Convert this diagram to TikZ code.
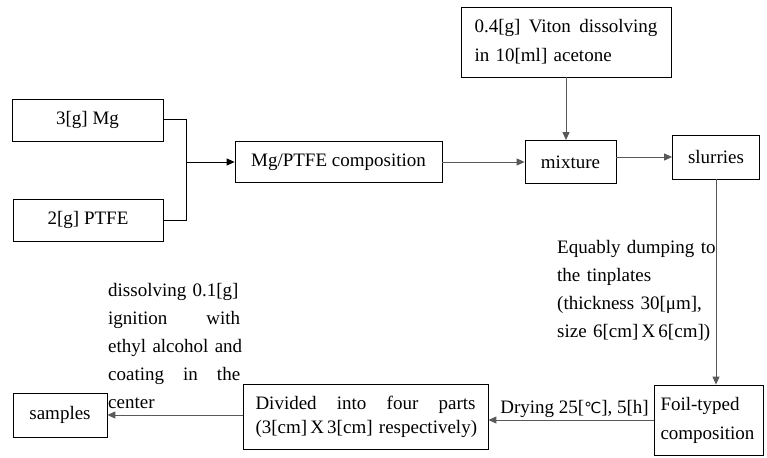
\documentclass[tikz,border=0pt]{standalone}
\usepackage{fontspec}
\setmainfont{Liberation Serif}
\newfontfamily\degfont[Scale=0.8]{DejaVu Sans}
\usetikzlibrary{arrows.meta}

\tikzset{
	box/.style={draw, line width=0.8pt, inner sep=0pt, align=center, font=\fontsize{19}{28}\selectfont},
	note/.style={inner sep=0pt, align=left, font=\fontsize{19}{28}\selectfont},
	link/.style={->, draw=gray!70!black, line width=0.9pt},
}

\begin{document}
\begin{tikzpicture}[x=1pt, y=-1pt, >={Triangle[length=8pt,width=7pt]}]
		\useasboundingbox (0,0) rectangle (767,457);

		\node[box, minimum width=151pt, minimum height=42pt] (mg) at (87.5,120) {3[g] Mg};
		\node[box, minimum width=150pt, minimum height=42pt] (ptfe) at (88,220) {2[g] PTFE};
		\node[box, minimum width=207pt, minimum height=41pt] (comp) at (338.5,162) {Mg/PTFE composition};
		\node[box, minimum width=210pt, minimum height=70pt, text width=183pt, align=left,
			font=\fontsize{19}{29}\selectfont] (viton) at (566,42)
			{0.4[g]\hfill Viton\hfill dissolving\\in 10[ml] acetone};
		\node[box, minimum width=91pt, minimum height=43pt] (mix) at (570.5,162) {mixture};
		\node[box, minimum width=87pt, minimum height=44pt] (slur) at (716,157) {slurries};
		\node[box, minimum width=109pt, minimum height=70pt, text width=96pt, align=left,
			font=\fontsize{19}{29}\selectfont] (foil) at (708.5,420) {Foil-typed\\composition};
		\node[box, minimum width=245pt, minimum height=65pt, text width=220pt, align=left,
			font=\fontsize{19}{24}\selectfont] (div) at (365.5,416.5)
			{Divided\hfill into\hfill four\hfill parts\\\mbox{(3[cm]\,X\,3[cm] respectively)}};
		\node[box, minimum width=94pt, minimum height=44pt] (samp) at (60,415) {samples};

		% notes beside the arrows
		\node[note, anchor=north west, text width=160pt] (dump) at (557,240)
			{Equably dumping to\\the tinplates\\(thickness 30[μm],\\size 6[cm]\,X\,6[cm])};
		\node[note, anchor=north west, text width=132pt] (coat) at (108,283)
			{dissolving 0.1[g]\\ignition\hfill with\\\mbox{ethyl alcohol and}\\coating\hfill in\hfill the\\center};
		\node[note, anchor=base east] (dry) at (649,413) {Drying 25[{\degfont ℃}], 5[h]};

		\coordinate (jn) at (186,162);
		\draw[line width=1pt] (mg.east) -| (jn);
		\draw[line width=1pt] (ptfe.east) -| (jn);
		\draw[->, line width=1pt] (jn) -- (comp.west);

		\draw[link] (comp) -- (mix);
		\draw[link] (viton.south) -- (viton.south |- mix.north);
		\draw[link] (mix.east |- slur.west) -- (slur.west);
		\draw[link] (slur.south) -- (slur.south |- foil.north);
		\draw[link] (foil.west) -- (foil.west -| div.east);
		\draw[link] (div.west |- samp.east) -- (samp.east);
	\end{tikzpicture}
\end{document}
